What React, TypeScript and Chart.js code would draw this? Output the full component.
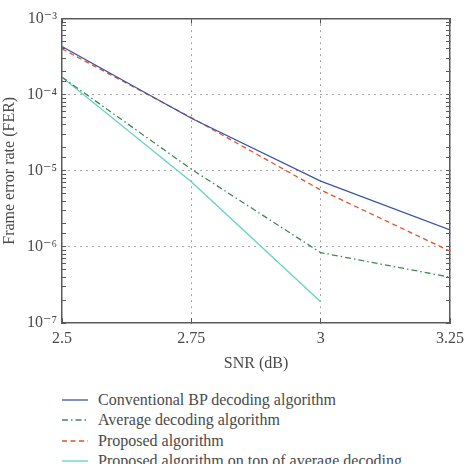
import React, { useEffect, useRef } from "react";
import { Chart, registerables } from "chart.js";

Chart.register(...registerables);

const snr = [2.5, 2.75, 3, 3.25];
const conventionalBP = [4.3e-4, 4.9e-5, 7.3e-6, 1.67e-6];
const averageDecoding = [1.7e-4, 1.05e-5, 8.4e-7, 4.0e-7];
const proposed = [4.0e-4, 5.0e-5, 5.6e-6, 8.8e-7];
const proposedOnAverage = [1.7e-4, 7.2e-6, 1.9e-7];

const xTicks = [2.5, 2.75, 3, 3.25];
const xTickLabels = ["2.5", "2.75", "3", "3.25"];
const yMajorExponents = [-7, -6, -5, -4, -3];
const yTickLabels = ["10⁻⁷", "10⁻⁶", "10⁻⁵", "10⁻⁴", "10⁻³"];

const FONT = "'Liberation Serif', 'DejaVu Serif', serif";
const TEXT = "#4a4a4a";
const AXIS = "#5a5a5a";

const series = [
  { label: "Conventional BP decoding algorithm", data: conventionalBP, color: "#3b56a6", dash: [] as number[] },
  { label: "Average decoding algorithm", data: averageDecoding, color: "#3f8a55", dash: [6, 3, 1.5, 3] },
  { label: "Proposed algorithm", data: proposed, color: "#e0522e", dash: [5, 3.5] },
  { label: "Proposed algorithm on top of average decoding", data: proposedOnAverage, color: "#62d4c0", dash: [] as number[] },
];

function majorLabel(v: number): string {
  const e = Math.round(Math.log10(v));
  if (Math.abs(v - Math.pow(10, e)) / v > 1e-6) return "";
  const i = yMajorExponents.indexOf(e);
  return i >= 0 ? yTickLabels[i] : "";
}

const isMajor = (v: number) => majorLabel(v) !== "";

export default function App() {
  const ref = useRef<HTMLCanvasElement | null>(null);

  useEffect(() => {
    if (!ref.current) return;
    const chart = new Chart(ref.current, {
      type: "line",
      data: {
        datasets: series.map((s) => ({
          label: s.label,
          data: s.data.map((y, i) => ({ x: snr[i], y })),
          borderColor: s.color,
          backgroundColor: s.color,
          borderWidth: 1.3,
          borderDash: s.dash,
          pointRadius: 0,
          tension: 0,
          fill: false,
        })),
      },
      options: {
        animation: false,
        responsive: false,
        maintainAspectRatio: false,
        layout: { padding: { top: 11, right: 18, left: 0, bottom: 0 } },
        plugins: { legend: { display: false }, tooltip: { enabled: false } },
        scales: {
          x: {
            type: "linear",
            position: "bottom",
            min: 2.5,
            max: 3.25,
            afterBuildTicks: (scale: any) => {
              scale.ticks = xTicks.map((v) => ({ value: v }));
            },
            afterFit: (scale: any) => {
              scale.height = 50;
            },
            ticks: {
              autoSkip: false,
              maxRotation: 0,
              padding: 11,
              color: TEXT,
              font: { family: FONT, size: 16 },
              callback: (v: any) => {
                const i = xTicks.indexOf(Number(v));
                return i >= 0 ? xTickLabels[i] : "";
              },
            },
            grid: {
              color: (ctx: any) => {
                const v = ctx.tick?.value;
                return v > 2.5 && v < 3.25 ? "#555" : "rgba(0,0,0,0)";
              },
              tickColor: AXIS,
              tickBorderDash: [],
              tickLength: -5,
              lineWidth: 1,
            },
            border: { color: AXIS, width: 1.5, dash: [1, 5] },
            title: {
              display: true,
              text: "SNR (dB)",
              color: TEXT,
              font: { family: FONT, size: 16 },
              padding: { top: 0, bottom: 0 },
            },
          },
          x2: {
            type: "linear",
            position: "top",
            min: 2.5,
            max: 3.25,
            afterBuildTicks: (scale: any) => {
              scale.ticks = xTicks.map((v) => ({ value: v }));
            },
            afterFit: (scale: any) => {
              scale.height = 0;
            },
            ticks: { display: false },
            grid: {
              drawOnChartArea: false,
              tickColor: AXIS,
              tickLength: -5,
            },
            border: { color: AXIS, width: 1.5 },
          },
          y: {
            type: "logarithmic",
            position: "left",
            min: 1e-7,
            max: 1e-3,
            afterFit: (scale: any) => {
              scale.width = 62;
            },
            ticks: {
              autoSkip: false,
              padding: 9,
              color: TEXT,
              font: { family: FONT, size: 16 },
              callback: (v: any) => majorLabel(Number(v)),
            },
            grid: {
              color: (ctx: any) => {
                const v = ctx.tick?.value;
                return isMajor(v) && v > 1.0001e-7 && v < 0.9999e-3 ? "#555" : "rgba(0,0,0,0)";
              },
              tickColor: AXIS,
              tickBorderDash: [],
              tickLength: -4,
              lineWidth: 1,
            },
            border: { color: AXIS, width: 1.5, dash: [1, 5] },
            title: {
              display: true,
              text: "Frame error rate (FER)",
              color: TEXT,
              font: { family: FONT, size: 16 },
              padding: { top: 0, bottom: 0 },
            },
          },
          y2: {
            type: "logarithmic",
            position: "right",
            min: 1e-7,
            max: 1e-3,
            afterFit: (scale: any) => {
              scale.width = 0;
            },
            ticks: { display: false, autoSkip: false },
            grid: {
              drawOnChartArea: false,
              tickColor: AXIS,
              tickLength: -4,
            },
            border: { color: AXIS, width: 1.5 },
          },
        },
      } as any,
    });
    return () => chart.destroy();
  }, []);

  return (
    <div style={{ position: "absolute", left: 0, top: 0, width: 475, height: 464, overflow: "hidden", background: "#fff" }}>
      <canvas ref={ref} width={475} height={373} style={{ position: "absolute", left: 0, top: 0, width: 475, height: 373 }} />
      <div style={{ position: "absolute", left: 62, top: 390, fontFamily: FONT, fontSize: 16, color: TEXT }}>
        {series.map((s, i) => (
          <div key={i} style={{ display: "flex", alignItems: "center", height: 20.3, whiteSpace: "nowrap" }}>
            <svg width={28} height={10} style={{ marginRight: 8 }}>
              <line x1={0} y1={5} x2={26} y2={5} stroke={s.color} strokeWidth={1.3} strokeDasharray={s.dash.length ? s.dash.join(" ") : undefined} />
            </svg>
            <span>{s.label}</span>
          </div>
        ))}
      </div>
    </div>
  );
}
